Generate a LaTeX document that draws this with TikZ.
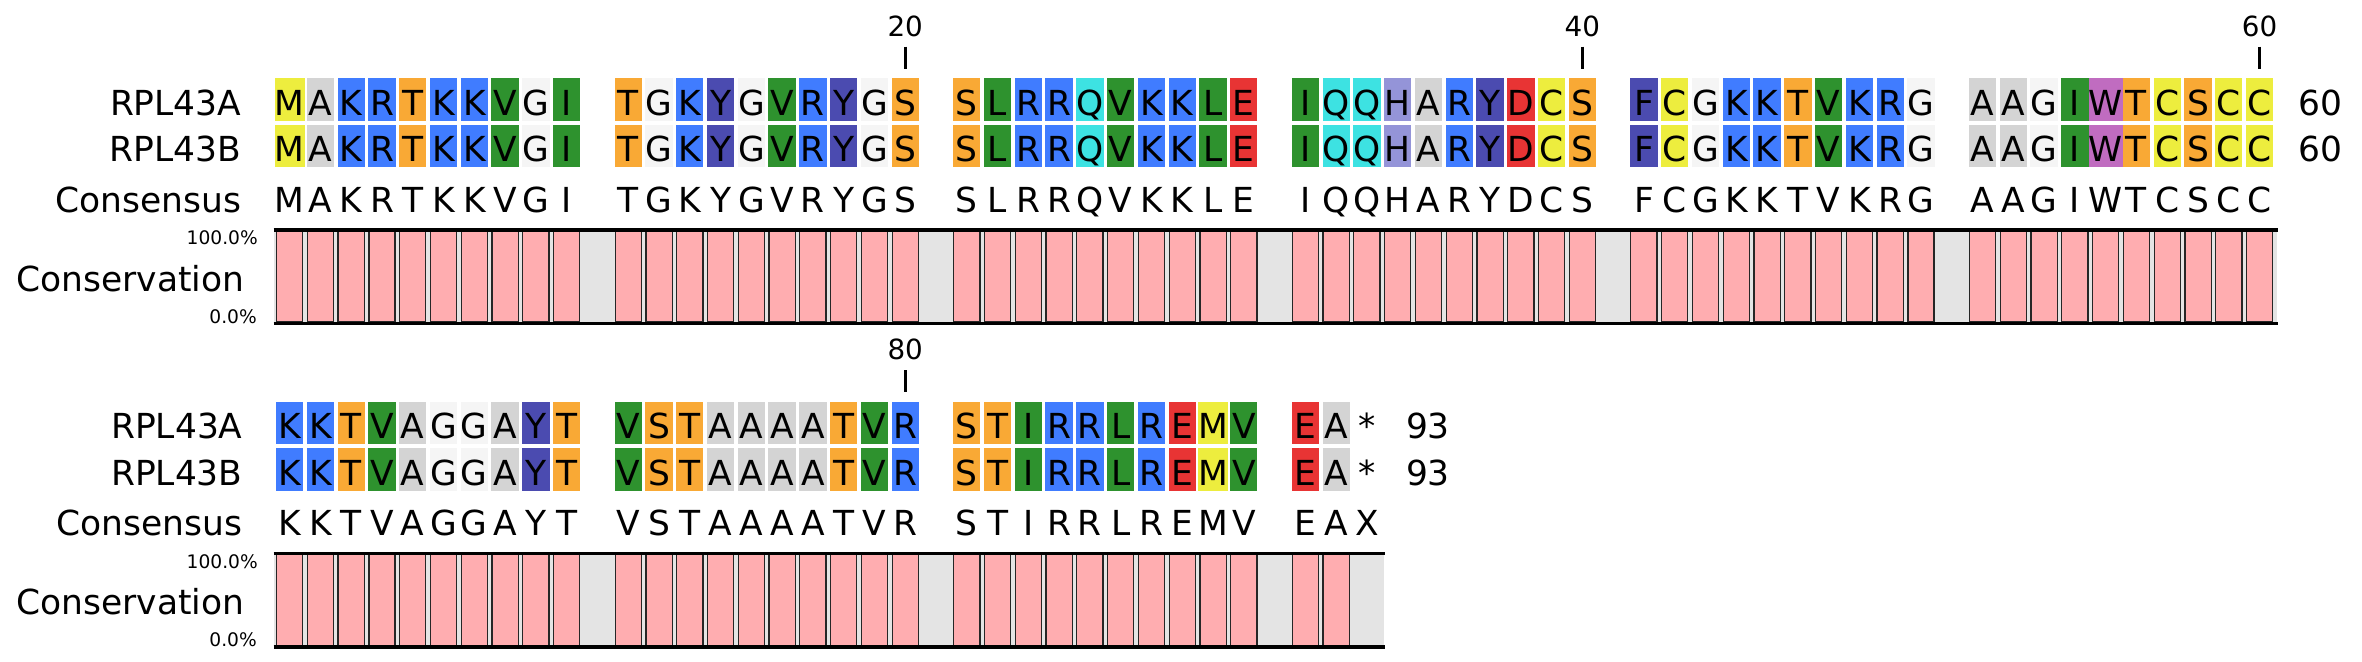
\documentclass[tikz,border=0pt]{standalone}
\usepackage{fontspec}
\setmainfont{DejaVu Sans}
\usepackage{xcolor}
\usepackage{tikz}
\usetikzlibrary{positioning}

\definecolor{resM}{HTML}{EDED3E}
\definecolor{resC}{HTML}{EDED3E}
\definecolor{resA}{HTML}{D4D4D4}
\definecolor{resG}{HTML}{F5F5F5}
\definecolor{resK}{HTML}{407CFF}
\definecolor{resR}{HTML}{407CFF}
\definecolor{resT}{HTML}{F9A935}
\definecolor{resS}{HTML}{F9A935}
\definecolor{resV}{HTML}{2E922E}
\definecolor{resI}{HTML}{2E922E}
\definecolor{resL}{HTML}{2E922E}
\definecolor{resY}{HTML}{4B4BB0}
\definecolor{resF}{HTML}{4B4BB0}
\definecolor{resQ}{HTML}{3DE2E2}
\definecolor{resE}{HTML}{E83434}
\definecolor{resD}{HTML}{E83434}
\definecolor{resH}{HTML}{9494D8}
\definecolor{resW}{HTML}{C06CC0}
\definecolor{conspink}{HTML}{FFADB0}
\definecolor{consgray}{HTML}{E4E4E4}

\tikzset{
  seqtext/.style={font=\fontsize{9.8}{11}\selectfont, text height=8.7pt, text depth=0pt, inner sep=0pt},
  rescell/.style={seqtext, minimum width=0.273cm, minimum height=0.425cm},
  consletter/.style={seqtext, minimum width=0.273cm},
  conbar/.style={draw=black!85, line width=0.35pt, fill=conspink, minimum width=0.262cm, minimum height=0.92cm, inner sep=0pt},
  consbg/.style={fill=consgray, minimum height=0.92cm, inner sep=0pt, anchor=north west},
  rowlabel/.style={seqtext},
  endnum/.style={seqtext},
  rulernum/.style={font=\fontsize{7.9}{9}\selectfont, inner sep=0pt, text depth=0pt},
  pctlabel/.style={font=\fontsize{5.3}{6}\selectfont, inner sep=0pt, anchor=base east},
  tickline/.style={line width=0.85pt},
  barrule/.style={line width=0.9pt},
}

\newcommand{\alnblock}[3]{%
  \foreach \r [count=\k from 0] in {#3} {
    \pgfmathtruncatemacro{\ri}{#1+\k}
    \pgfmathsetmacro{\cx}{289.65+30.78*(\k+floor(\k/10))}
    \node[rescell, fill=res\r] (a\ri) at (\cx, 99.75+#2) {\r};
    \node[rescell, fill=res\r] (b\ri) at (\cx, 146.25+#2) {\r};
    \node[consletter] (c\ri) at (\cx, 196.75+#2) {\r};
    \node[conbar] (v\ri) at (\cx, 276+#2) {};
  }%
}

\begin{document}
\begin{tikzpicture}[x=0.01cm, y=-0.01cm]
	\useasboundingbox (0,0) rectangle (2362,662);

	\node[consbg, minimum width=20.02cm] (cbg1) at (273.5,230) {};
	\node[consbg, minimum width=11.09cm] (cbg2) at (273.5,553.5) {};

	\alnblock{1}{0}{M,A,K,R,T,K,K,V,G,I,T,G,K,Y,G,V,R,Y,G,S,S,L,R,R,Q,V,K,K,L,E,I,Q,Q,H,A,R,Y,D,C,S,F,C,G,K,K,T,V,K,R,G,A,A,G,I,W,T,C,S,C,C}
	\alnblock{61}{323.5}{K,K,T,V,A,G,G,A,Y,T,V,S,T,A,A,A,A,T,V,R,S,T,I,R,R,L,R,E,M,V,E,A}

	\node[rescell] (a93) at (1366.95,423.25) {*};
	\node[rescell] (b93) at (1366.95,469.75) {*};
	\node[consletter] (c93) at (1366.95,520.25) {X};

	\foreach \blk in {1,2} {
		\draw[barrule] (cbg\blk.north west) -- (cbg\blk.north east);
		\draw[barrule] (cbg\blk.south west) -- (cbg\blk.south east);
		\node[pctlabel] (hi\blk) at ([xshift=-0.15cm, yshift=-0.15cm]cbg\blk.north west) {100.0\%};
		\node[pctlabel] (lo\blk) at ([xshift=-0.16cm]cbg\blk.south west) {0.0\%};
	}

	\node[rowlabel, left=0.32cm of a1] (labA1) {RPL43A};
	\node[rowlabel, left=0.32cm of b1] (labB1) {RPL43B};
	\node[rowlabel, left=0.32cm of c1] (labC1) {Consensus};
	\node[rowlabel, left=0.31cm of v1] (labV1) {Conservation};
	\node[rowlabel, left=0.32cm of a61] (labA2) {RPL43A};
	\node[rowlabel, left=0.32cm of b61] (labB2) {RPL43B};
	\node[rowlabel, left=0.32cm of c61] (labC2) {Consensus};
	\node[rowlabel, left=0.31cm of v61] (labV2) {Conservation};

	\node[endnum, right=0.24cm of a60] (endA60) {60};
	\node[endnum, right=0.24cm of b60] (endB60) {60};
	\node[endnum, right=0.24cm of a93] (endA93) {93};
	\node[endnum, right=0.24cm of b93] (endB93) {93};

	\foreach \p in {20,40,60,80} {
		\node[rulernum, above=0.41cm of a\p] (pos\p) {\p};
		\draw[tickline, shorten <=0.1cm, shorten >=0.09cm] (pos\p) -- (a\p);
	}
\end{tikzpicture}
\end{document}
